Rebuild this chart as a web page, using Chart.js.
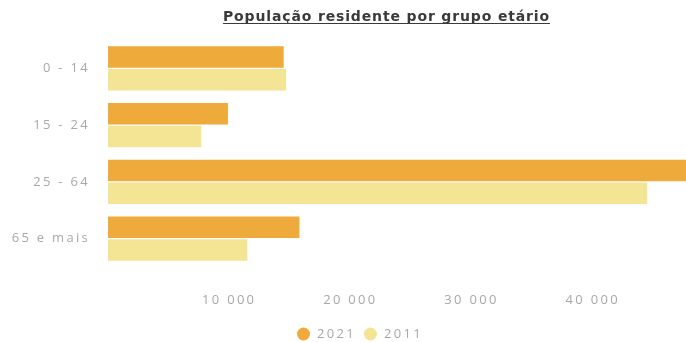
<!DOCTYPE html>
<html><head><meta charset="utf-8">
<script src="https://cdn.jsdelivr.net/npm/chart.js@4/dist/chart.umd.min.js"></script>
<style>html,body{margin:0;padding:0;background:#fff}#wrap{width:686px;height:342px}</style>
</head><body><div id="wrap"><canvas id="c"></canvas></div>
<script>
const title = 'População residente por grupo etário';
const categories = ['0 - 14', '15 - 24', '25 - 64', '65 e mais'];
const values2021 = [14500, 9900, 47700, 15800];
const values2011 = [14700, 7700, 44500, 11500];
const tickValues = [10000, 20000, 30000, 40000];

const spacingPlugin = {
  id: 'spacing',
  beforeUpdate(chart) { chart.ctx.letterSpacing = '2.3px'; },
  beforeDraw(chart) { chart.ctx.letterSpacing = '2.3px'; }
};

const titlePlugin = {
  id: 'ulTitle',
  afterDraw(chart) {
    const ctx = chart.ctx;
    ctx.save();
    ctx.font = 'bold 14px "DejaVu Sans", sans-serif';
    ctx.letterSpacing = '0px';
    const raw = ctx.measureText(title).width;
    const sp = Math.max(0, (327 - raw) / title.length);
    ctx.letterSpacing = sp + 'px';
    ctx.fillStyle = '#3a3a3a';
    ctx.textAlign = 'left';
    ctx.textBaseline = 'alphabetic';
    const x0 = 223, y = 21;
    ctx.fillText(title, x0, y);
    ctx.strokeStyle = '#3a3a3a';
    ctx.lineWidth = 1;
    ctx.beginPath();
    ctx.moveTo(x0, y + 2.5);
    ctx.lineTo(550, y + 2.5);
    ctx.stroke();
    ctx.restore();
  }
};

const legendPlugin = {
  id: 'customLegend',
  afterDraw(chart) {
    const ctx = chart.ctx;
    ctx.save();
    ctx.font = '13px "Open Sans", sans-serif';
    ctx.letterSpacing = '2.3px';
    ctx.textBaseline = 'middle';
    ctx.textAlign = 'left';
    let x = 297;
    const y = 334;
    chart.data.datasets.forEach(ds => {
      ctx.fillStyle = ds.backgroundColor;
      ctx.beginPath();
      ctx.arc(x + 6.5, y, 6.5, 0, Math.PI * 2);
      ctx.fill();
      ctx.fillStyle = '#a8a8a8';
      ctx.fillText(ds.label, x + 20, y);
      x += 20 + ctx.measureText(ds.label).width + 8;
    });
    ctx.restore();
  }
};

new Chart(document.getElementById('c'), {
  type: 'bar',
  data: {
    labels: categories,
    datasets: [
      { label: '2021', data: values2021, backgroundColor: '#EFAA3C', borderWidth: 0 },
      { label: '2011', data: values2011, backgroundColor: '#F4E594', borderWidth: 0 }
    ]
  },
  options: {
    indexAxis: 'y',
    responsive: true,
    maintainAspectRatio: false,
    animation: false,
    layout: { padding: { top: 40, left: 0, right: 0, bottom: 0 } },
    datasets: { bar: { categoryPercentage: 0.8, barPercentage: 0.94 } },
    scales: {
      x: {
        min: 0, max: 47700,
        grid: { display: false, drawTicks: false },
        border: { display: false },
        afterBuildTicks(s) { s.ticks = tickValues.map(v => ({ value: v })); },
        afterFit(s) { s.height = 75; },
        ticks: {
          padding: 25,
          color: '#a8a8a8',
          font: { family: '"Open Sans", sans-serif', size: 13 },
          callback: v => String(v).replace(/\B(?=(\d{3})+(?!\d))/g, ' ')
        }
      },
      y: {
        grid: { display: false, drawTicks: false },
        border: { display: false },
        afterFit(s) { s.width = 108; },
        ticks: {
          padding: 18,
          color: '#a8a8a8',
          font: { family: '"Open Sans", sans-serif', size: 13 }
        }
      }
    },
    plugins: {
      title: { display: false },
      tooltip: { enabled: false },
      legend: { display: false }
    }
  },
  plugins: [spacingPlugin, titlePlugin, legendPlugin]
});
</script></body></html>
